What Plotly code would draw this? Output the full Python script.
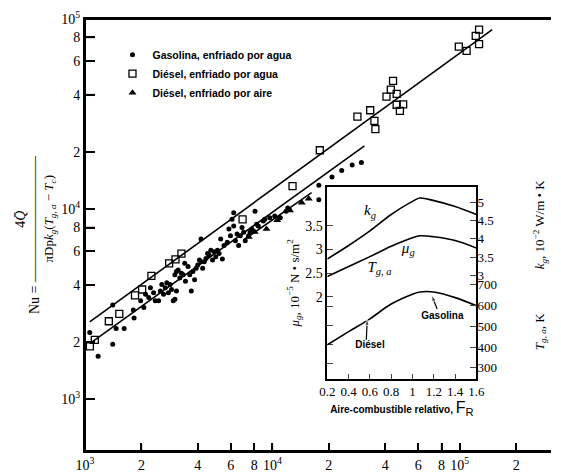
import math
import plotly.graph_objects as go

# ---------------- main chart data ----------------
gas_x = [1060, 1175, 1406, 1406, 1466, 1618, 1828, 1811, 1982, 2061, 2104, 2188, 2234, 2323,
         2372, 2472, 2524, 2570, 2625, 2680, 2731, 2786, 2844, 2897, 2958, 3018, 3076, 3018,
         3076, 3141, 3206, 3270, 3342, 3407, 3434, 3548, 3622, 3693, 3767, 3844, 3920, 3998,
         4081, 4160, 4160, 4246, 4333, 4421, 4510, 4604, 4695, 4795, 4893, 4989, 5092, 5198,
         5300, 5409, 5520, 5744, 5861, 5974, 6093, 6218, 6218, 6348, 6479, 6608, 6745, 6885,
         7026, 7163, 7465, 7610, 7762, 8079, 8241, 8414, 8939, 9114, 9687, 10290, 10920, 11830,
         12320, 17700, 17700, 20800, 23440, 26660, 29850, 12080, 11020]
gas_y = [2240, 1683, 1948, 3126, 2355, 2355, 2673, 2944, 3296, 3041, 3564, 3428, 3855, 3631,
         3296, 3296, 3706, 4009, 3564, 3855, 4093, 3631, 4009, 3776, 3296, 3357, 3706, 4512,
         4698, 4788, 4341, 4603, 4512, 5188, 4175, 4990, 4512, 3706, 4698, 4256, 4887, 5081,
         5396, 5286, 6967, 4887, 5286, 5496, 5838, 5718, 6070, 5396, 5957, 5612, 6070, 5838,
         6967, 5456, 6441, 6697, 7847, 7245, 8830, 9561, 8157, 6823, 7396, 6441, 7245, 8000,
         7545, 6823, 7245, 7545, 7847, 9743, 8316, 8157, 8651, 8830, 9005, 9190, 9005, 9743,
         9941, 13360, 11190, 14750, 15960, 17060, 17610, 10140, 9010]

dw_x = [1062, 1128, 1340, 1524, 1849, 2018, 2262, 2812, 3041, 3271, 6934, 12810, 17910,
        28440, 33270, 35040, 35460, 40640, 42870, 44060, 46060, 46060, 49890, 47930,
        98860, 108800, 121700, 126800, 126800]
dw_y = [1895, 2051, 2570, 2812, 3520, 3776, 4457, 5188, 5433, 5838, 8830, 13210, 20400,
        30620, 33110, 29090, 26340, 39080, 42470, 47270, 40340, 35400, 35560, 32860,
        71520, 67920, 81470, 87820, 73790]

da_x = [7482, 8054, 9303, 10610, 12420, 14350, 15630]
da_y = [7137, 7568, 7847, 8730, 9817, 10790, 11330]

fit_gas_x = [1060, 31000]
fit_gas_y = [1960, 21500]
fit_dw_x = [1060, 149000]
fit_dw_y = [2550, 88000]
fit_da_x = [7050, 16200]
fit_da_y = [6900, 12200]

main_x_ticks = [1e3, 2e3, 4e3, 6e3, 8e3, 1e4, 2e4, 4e4, 6e4, 8e4, 1e5, 2e5]
main_x_text = ["10<sup>3</sup>", "2", "4", "6", "8", "10<sup>4</sup>", "2", "4", "6", "8",
               "10<sup>5</sup>", "2"]
main_y_ticks = [1e3, 2e3, 4e3, 6e3, 8e3, 1e4, 2e4, 4e4, 6e4, 8e4, 1e5]
main_y_text = ["10<sup>3</sup>", "2", "4", "6", "8", "10<sup>4</sup>", "2", "4", "6", "8",
               "10<sup>5</sup>"]
XR = [3, 5.487]
YR = [2.7275, 5]

# ---------------- inset data ----------------
fr = [0.2, 0.4, 0.6, 0.8, 1.0, 1.07, 1.2, 1.4, 1.6]
kg = [3.45, 3.82, 4.22, 4.67, 5.03, 5.12, 5.05, 4.89, 4.67]
mug = [2.43, 2.64, 2.85, 3.07, 3.25, 3.29, 3.27, 3.19, 3.03]
tga = [411, 474, 536, 607, 654, 665, 665, 638, 599]

inset_x_ticks = [0.2, 0.4, 0.6, 0.8, 1.0, 1.2, 1.4, 1.6]
mu_ticks = [3.5, 3.0, 2.5, 2.0, 1.8, 1.4, 1.0, 0.6]
mu_text = ["3.5", "3", "2.5", "2", "", "", "", ""]
k_ticks = [3, 3.5, 4, 4.5, 5]
k_text = ["3", "3.5", "4", "4.5", "5"]
t_ticks = [300, 400, 500, 600, 700]

lab_serif_text = ["<i>k<sub>g</sub></i>", "<i>μ<sub>g</sub></i>", "<i>T<sub>g, a</sub></i>"]
lab_serif_x = [0.60, 0.96, 0.69]
lab_serif_y = [3.80, 3.00, 2.60]
lab_sans_text = ["<b>Gasolina</b>", "<b>Diésel</b>"]
lab_sans_x = [1.28, 0.60]
lab_sans_y = [1.59, 0.97]
arrow_gas_x = [1.231, 1.179]
arrow_gas_t = [583, 651]
arrow_die_x = [0.566, 0.575]
arrow_die_t = [435, 536]

SERIF = "Liberation Serif, Times New Roman, serif"
SANS = "Liberation Sans, Arial, sans-serif"
NB = "\u00a0"

fig = go.Figure()
fig.add_trace(go.Scatter(x=gas_x, y=gas_y, mode="markers",
                         name="<b>Gasolina, enfriado por agua</b>",
                         marker=dict(symbol="circle", size=5, color="black")))
fig.add_trace(go.Scatter(x=dw_x, y=dw_y, mode="markers",
                         name="<b>Diésel, enfriado por agua</b>",
                         marker=dict(symbol="square-open", size=7, color="black",
                                     line=dict(width=1.3, color="black"))))
fig.add_trace(go.Scatter(x=da_x, y=da_y, mode="markers",
                         name="<b>Diésel, enfriado por aire</b>",
                         marker=dict(symbol="triangle-up", size=7, color="black")))
for lx, ly in [(fit_gas_x, fit_gas_y), (fit_dw_x, fit_dw_y), (fit_da_x, fit_da_y)]:
    fig.add_trace(go.Scatter(x=lx, y=ly, mode="lines", showlegend=False,
                             line=dict(color="black", width=1.6), hoverinfo="skip"))

fig.add_trace(go.Scatter(x=fr, y=mug, mode="lines", xaxis="x2", yaxis="y2", showlegend=False,
                         line=dict(color="black", width=1.6, shape="spline")))
fig.add_trace(go.Scatter(x=fr, y=kg, mode="lines", xaxis="x2", yaxis="y3", showlegend=False,
                         line=dict(color="black", width=1.6, shape="spline")))
fig.add_trace(go.Scatter(x=fr, y=tga, mode="lines", xaxis="x2", yaxis="y4", showlegend=False,
                         line=dict(color="black", width=1.6, shape="spline")))

fig.add_trace(go.Scatter(x=lab_serif_x, y=lab_serif_y, mode="text", text=lab_serif_text,
                         xaxis="x2", yaxis="y2", showlegend=False, cliponaxis=False,
                         textfont=dict(family=SERIF, size=15, color="black"),
                         hoverinfo="skip"))
fig.add_trace(go.Scatter(x=lab_sans_x, y=lab_sans_y, mode="text", text=lab_sans_text,
                         xaxis="x2", yaxis="y2", showlegend=False, cliponaxis=False,
                         textfont=dict(family=SANS, size=10, color="black"),
                         hoverinfo="skip"))
for ax_, at_ in [(arrow_gas_x, arrow_gas_t), (arrow_die_x, arrow_die_t)]:
    fig.add_trace(go.Scatter(x=ax_, y=at_, mode="lines+markers", xaxis="x2", yaxis="y4",
                             showlegend=False, cliponaxis=False, hoverinfo="skip",
                             line=dict(color="black", width=1.2),
                             marker=dict(symbol="arrow", size=[0, 7], color="black",
                                         angleref="previous")))

y_title = ("<span style='font-size:14px'>" + NB * 9 + "4<i>Q̄</i></span><br>"
           "<span style='font-size:14px'>Nu = " + "—" * 9 + "</span><br>"
           "<span style='font-size:13px'>" + NB * 10 +
           "πDp<i>k<sub>g</sub></i>(<i>T<sub>g, a</sub></i> − <i>T<sub>c</sub></i>)</span>")

fig.update_layout(
    width=553, height=466,
    margin=dict(l=77, r=1, t=7, b=17),
    paper_bgcolor="white", plot_bgcolor="rgba(0,0,0,0)",
    font=dict(family=SERIF, color="black", size=14),
    xaxis=dict(type="log", range=XR, tickvals=main_x_ticks, ticktext=main_x_text,
               ticks="inside", ticklen=8, tickwidth=1.5, tickcolor="black",
               showgrid=False, zeroline=False, anchor="y",
               showline=True, linecolor="black", linewidth=2, mirror=True,
               tickfont=dict(family=SERIF, size=14)),
    yaxis=dict(type="log", range=YR, tickvals=main_y_ticks, ticktext=main_y_text,
               ticks="inside", ticklen=10, tickwidth=1.5, tickcolor="black",
               showgrid=False, zeroline=False, anchor="x", ticklabeloverflow="allow",
               showline=True, linecolor="black", linewidth=2,
               tickfont=dict(family=SERIF, size=14),
               title=dict(text=y_title, font=dict(family=SERIF, size=11), standoff=5)),
    xaxis2=dict(domain=[0.52, 0.84], anchor="y2", range=[0.2, 1.6], tickvals=inset_x_ticks,
                ticks="inside", ticklen=5, tickwidth=1.2, showgrid=False, zeroline=False,
                showline=True, linecolor="black", linewidth=1.5, mirror=True,
                tickfont=dict(family=SERIF, size=13),
                title=dict(text="<b>Aire-combustible relativo,</b> "
                                "<span style='font-size:16px'>F<sub>R</sub></span>",
                           font=dict(family=SANS, size=10), standoff=4)),
    yaxis2=dict(domain=[0.1674, 0.6109], anchor="x2", range=[0.27, 4.32], tickvals=mu_ticks,
                ticktext=mu_text, ticks="inside", ticklen=6, tickwidth=1.2, showgrid=False,
                zeroline=False, showline=True, linecolor="black", linewidth=1.5, mirror=True,
                tickfont=dict(family=SERIF, size=14),
                title=dict(text="<i>μ<sub>g</sub></i>, 10<sup>−5</sup> N • s/m<sup>2</sup>",
                           font=dict(family=SERIF, size=13), standoff=3)),
    yaxis3=dict(domain=[0.4027, 0.6448], anchor="x2", side="right", range=[2.954, 5.823],
                tickvals=k_ticks, ticktext=k_text, ticks="inside", ticklen=6, tickwidth=1.2,
                showgrid=False, zeroline=False, showline=False,
                tickfont=dict(family=SERIF, size=13),
                title=dict(text="<i>k<sub>g</sub></i>, 10<sup>−2</sup> W/m • K",
                           font=dict(family=SERIF, size=13), standoff=42)),
    yaxis4=dict(domain=[0.1606, 0.3914], anchor="x2", side="right", range=[233.6, 713.6],
                tickvals=t_ticks, ticks="inside", ticklen=6, tickwidth=1.2,
                showgrid=False, zeroline=False, showline=False,
                tickfont=dict(family=SERIF, size=13),
                title=dict(text="<i>T<sub>g, a</sub></i>, K",
                           font=dict(family=SERIF, size=13), standoff=38)),
    legend=dict(x=0.059, y=0.951, xanchor="left", yanchor="top", bgcolor="rgba(0,0,0,0)",
                font=dict(family=SANS, size=10.5, color="black"), itemwidth=30),
)

# frame and inward ticks of the main log-log axes (guarantees they are drawn)
frame = dict(color="black", width=2)
fig.add_shape(type="line", xref="paper", yref="paper", x0=0, x1=0, y0=0, y1=1, line=frame)
fig.add_shape(type="line", xref="paper", yref="paper", x0=0, x1=1, y0=0, y1=0, line=frame)
fig.add_shape(type="line", xref="paper", yref="paper", x0=0, x1=1, y0=1, y1=1, line=frame)
tick_line = dict(color="black", width=1.5)
for v in main_x_ticks:
    p = (math.log10(v) - XR[0]) / (XR[1] - XR[0])
    fig.add_shape(type="line", xref="paper", yref="paper", x0=p, x1=p, y0=0, y1=8 / 442,
                  line=tick_line)
for v in main_y_ticks:
    p = (math.log10(v) - YR[0]) / (YR[1] - YR[0])
    fig.add_shape(type="line", xref="paper", yref="paper", x0=0, x1=10 / 475, y0=p, y1=p,
                  line=tick_line)

fig.write_html("out.html")
